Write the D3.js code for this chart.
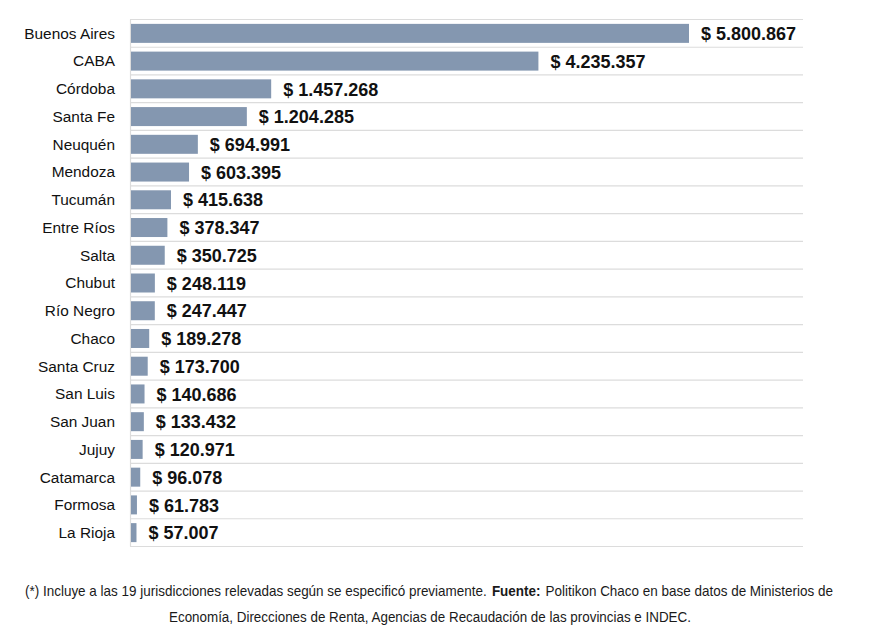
<!DOCTYPE html>
<html><head><meta charset="utf-8">
<script src="https://cdn.jsdelivr.net/npm/d3@7"></script>
<style>body{margin:0;background:#fff}svg{display:block}</style>
</head><body>
<svg id="c" width="872" height="633"></svg>
<script>
const categories = ["Buenos Aires","CABA","Córdoba","Santa Fe","Neuquén","Mendoza","Tucumán","Entre Ríos","Salta","Chubut","Río Negro","Chaco","Santa Cruz","San Luis","San Juan","Jujuy","Catamarca","Formosa","La Rioja"];
const values = [5800867,4235357,1457268,1204285,694991,603395,415638,378347,350725,248119,247447,189278,173700,140686,133432,120971,96078,61783,57007];
const footer1a = "(*) Incluye a las 19 jurisdicciones relevadas según se especificó previamente.";
const footer1b = "Fuente:";
const footer1c = "Politikon Chaco en base datos de Ministerios de";
const footer2 = "Economía, Direcciones de Renta, Agencias de Recaudación de las provincias e INDEC.";

const svg = d3.select("#c");
const pL = 131, pR = 803, pT = 19.5, pB = 546.5;
const x = d3.scaleLinear().domain([0, 5800867]).range([pL, 689]);
const y = d3.scaleBand().domain(categories).range([pT, pB]).padding(0);
const rowH = y.bandwidth();
const barH = 19;
const fmt = v => "$ " + d3.format(",")(v).replace(/,/g, ".");

const g = svg.append("g");
const bounds = categories.map(c => y(c)).concat([pB]);
g.selectAll("line.grid").data(bounds).join("line").attr("class", "grid")
  .attr("x1", pL - 1).attr("x2", pR).attr("y1", d => d).attr("y2", d => d)
  .attr("stroke", "#dcdcdc").attr("stroke-width", 1.2);
g.append("line").attr("x1", pL - 0.5).attr("x2", pL - 0.5).attr("y1", pT).attr("y2", pB)
  .attr("stroke", "#dcdcdc").attr("stroke-width", 1.2);

g.selectAll("rect.bar").data(values).join("rect").attr("class", "bar")
  .attr("x", pL).attr("y", (d, i) => y(categories[i]) + rowH / 2 - barH / 2)
  .attr("width", d => x(d) - pL).attr("height", barH)
  .attr("fill", "#8497b0");

g.selectAll("text.cat").data(categories).join("text").attr("class", "cat")
  .attr("x", 115).attr("y", d => y(d) + rowH / 2).attr("dy", "0.35em")
  .attr("text-anchor", "end").attr("font-family", "Liberation Sans, Arial, sans-serif")
  .attr("font-size", 15.4).attr("fill", "#111").text(d => d);

g.selectAll("text.val").data(values).join("text").attr("class", "val")
  .attr("x", d => x(d) + 12).attr("y", (d, i) => y(categories[i]) + rowH / 2).attr("dy", "0.37em")
  .attr("font-family", "Liberation Sans, Arial, sans-serif").attr("font-weight", "bold")
  .attr("font-size", 18).attr("fill", "#111").text(d => fmt(d));

// footer: condensed text via horizontal scale transform
const parts = [[footer1a, "normal"], [footer1b, "bold"], [footer1c, "normal"]];
const gap = 5;
const nodes = parts.map(([t, w]) => svg.append("text").attr("x", 0).attr("y", 596)
  .attr("font-family", "Liberation Sans, Arial, sans-serif").attr("font-size", 15)
  .attr("font-weight", w).attr("fill", "#1a1a1a").text(t));
const widths = nodes.map(n => n.node().getComputedTextLength());
const k = (808 - gap * 2) / d3.sum(widths);
let cx = 25;
nodes.forEach((n, i) => {
  n.attr("transform", `translate(${cx},0) scale(${k},1)`);
  cx += widths[i] * k + gap;
});
const f2 = svg.append("text").attr("x", 0).attr("y", 622)
  .attr("font-family", "Liberation Sans, Arial, sans-serif")
  .attr("font-size", 15).attr("fill", "#1a1a1a").text(footer2);
const w2 = f2.node().getComputedTextLength();
const k2 = 522 / w2;
f2.attr("transform", `translate(${430 - 261},0) scale(${k2},1)`);
</script>
</body></html>
